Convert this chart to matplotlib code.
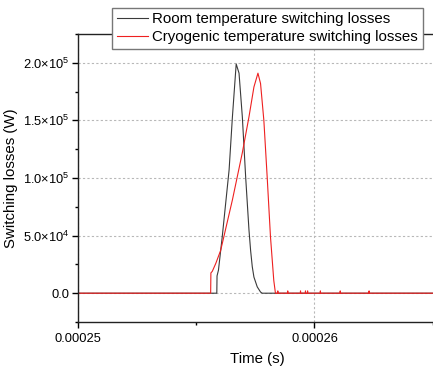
import matplotlib
matplotlib.use("Agg")
import matplotlib.pyplot as plt
from matplotlib.ticker import FixedLocator, FixedFormatter, MultipleLocator

plt.rcParams['font.family'] = ['Liberation Sans', 'DejaVu Sans']
plt.rcParams['mathtext.fontset'] = 'custom'
plt.rcParams['mathtext.rm'] = 'Liberation Sans'
plt.rcParams['mathtext.it'] = 'Liberation Sans:italic'

# Time in microseconds, losses in kW
room_t_us = [250.00, 255.87, 255.88, 255.94, 256.10, 256.39, 256.53, 256.69,
             256.81, 256.95, 257.09, 257.23, 257.30, 257.37, 257.44, 257.58,
             257.72, 257.79, 265.00]
room_kw = [0.0, 0.0, 15.0, 20.0, 49.0, 107.0, 153.0, 199.0,
           191.0, 153.0, 101.0, 55.0, 37.0, 23.0, 14.0, 5.5,
           1.0, 0.0, 0.0]

cryo_t_us = [250.00, 255.61, 255.62, 255.68, 255.83, 256.03, 256.10, 256.53,
             256.95, 257.23, 257.44, 257.61, 257.72, 257.86, 258.00, 258.14,
             258.28, 258.35,
             258.44, 258.45, 258.46,
             258.86, 258.87, 258.88,
             259.40, 259.41, 259.42,
             259.61, 259.62, 259.63,
             259.70, 259.71, 259.72,
             260.24, 260.25, 260.26,
             261.08, 261.09, 261.10,
             262.30, 262.31, 262.32,
             265.00]
cryo_kw = [0.0, 0.0, 17.6, 19.0, 26.0, 37.0, 43.0, 81.0,
           122.0, 153.0, 179.0, 191.0, 182.0, 150.0, 101.0, 49.0,
           11.0, 0.0,
           0.0, 2.0, 0.0,
           0.0, 2.0, 0.0,
           0.0, 2.0, 0.0,
           0.0, 2.0, 0.0,
           0.0, 2.0, 0.0,
           0.0, 2.0, 0.0,
           0.0, 2.0, 0.0,
           0.0, 2.0, 0.0,
           0.0]

x_ticks = [0.00025, 0.00026]
x_tick_labels = ['0.00025', '0.00026']
y_ticks = [0.0, 5.0e4, 1.0e5, 1.5e5, 2.0e5]
y_tick_labels = ['0.0', r'$5.0{\times}10^{4}$', r'$1.0{\times}10^{5}$',
                 r'$1.5{\times}10^{5}$', r'$2.0{\times}10^{5}$']

fig = plt.figure(figsize=(4.33, 3.67), dpi=100)
ax = fig.add_axes([78 / 433, 1 - 322 / 367, (436 - 78) / 433, (322 - 34) / 367])

t_room = [v * 1e-6 for v in room_t_us]
p_room = [v * 1e3 for v in room_kw]
t_cryo = [v * 1e-6 for v in cryo_t_us]
p_cryo = [v * 1e3 for v in cryo_kw]

l1, = ax.plot(t_room, p_room, color='#3a3a3a', lw=0.8,
              label='Room temperature switching losses')
l2, = ax.plot(t_cryo, p_cryo, color='#ee2020', lw=0.8,
              label='Cryogenic temperature switching losses')

ax.set_xlim(0.00025, 0.00026514)
ax.set_ylim(-2.5e4, 2.25e5)

ax.xaxis.set_major_locator(FixedLocator(x_ticks))
ax.xaxis.set_major_formatter(FixedFormatter(x_tick_labels))
ax.xaxis.set_minor_locator(MultipleLocator(5e-6))
ax.yaxis.set_major_locator(FixedLocator(y_ticks))
ax.yaxis.set_major_formatter(FixedFormatter(y_tick_labels))
ax.yaxis.set_minor_locator(MultipleLocator(2.5e4))

ax.grid(True, which='major', color='#b8b8b8', lw=0.8, linestyle=(0, (2, 2)))
ax.set_axisbelow(True)

ax.tick_params(axis='both', which='major', direction='out', length=4, width=1,
               labelsize=9.3, right=True, top=False)
ax.tick_params(axis='both', which='minor', direction='out', length=2.5, width=1,
               right=True, top=False)
ax.tick_params(axis='x', pad=4)
ax.tick_params(axis='y', pad=2)
for s in ax.spines.values():
    s.set_linewidth(1.0)
    s.set_color('#222222')

ax.set_xlabel('Time (s)', fontsize=10.8, labelpad=5)
ax.set_ylabel('Switching losses (W)', fontsize=10.8, labelpad=4)

leg = fig.legend(handles=[l1, l2], loc='upper left',
                 bbox_to_anchor=(112 / 433, 1 - 8 / 367),
                 fontsize=10.8, frameon=True, fancybox=False,
                 edgecolor='#777777', framealpha=1.0,
                 handlelength=2.1, handletextpad=0.3, borderpad=0.3,
                 labelspacing=0.25, borderaxespad=0.0)
leg.get_frame().set_linewidth(1.0)

fig.savefig('out.png', dpi=100)
